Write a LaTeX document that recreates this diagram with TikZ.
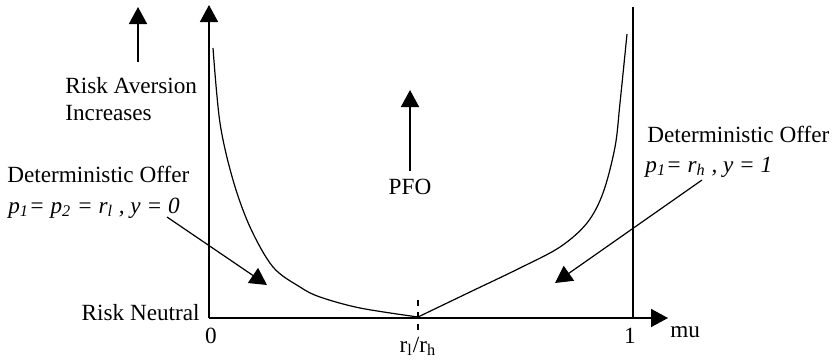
\documentclass[tikz,border=0pt]{standalone}
\usepackage{fontspec}
\setmainfont{Liberation Serif}
\usetikzlibrary{arrows.meta, positioning}

\begin{document}
\begin{tikzpicture}[x=0.5pt, y=-0.5pt, font=\fontsize{11.6pt}{13.5pt}\selectfont,
    every node/.style={inner sep=0pt},
    axisline/.style={line width=0.8pt},
    bigtip/.style={-{Triangle[length=8.5pt, width=9pt]}},
    curveline/.style={line width=0.6pt}]
    \useasboundingbox (0,0) rectangle (834,360);
    % Axes
    \coordinate (origin) at (209,318);
    \coordinate (ytop)   at (209,5);
    \coordinate (xend)   at (668,318);
    \coordinate (one)    at (633,318);
    \coordinate (onetop) at (633,7);
    \draw[axisline, bigtip] (origin) -- (ytop);
    \draw[axisline, bigtip] (origin) -- (xend);
    \draw[axisline] (one) -- (onetop);
    % r_l/r_h marker
    \coordinate (mtop) at (418,300);
    \coordinate (mbot) at (418,333);
    \draw[dashed, line width=0.6pt] (mtop) -- (mbot);
    % Curves
    \draw[curveline] plot[smooth, tension=0.55] coordinates {
      (213,48) (220,123) (233,180) (250,227) (273,267) (300,287)
      (320,297) (360,308) (418,317)};
    \draw[curveline] plot[smooth, tension=0.55] coordinates {
      (418,317) (470,292) (520,268) (560,247) (587,223) (603,193)
      (615,147) (620,103) (627,34)};
    % Axis labels
    \node[anchor=base east] (neutral) at (200,320) {Risk Neutral};
    \node[anchor=base] (zero) at (211,343) {0};
    \node[anchor=base] (unit) at (630,343) {1};
    \node[anchor=base] (ratio) at (418,352) {r\textsubscript{l}/r\textsubscript{h}};
    \node[anchor=base west] (mu) at (670,337) {mu};
    % Risk aversion
    \node[anchor=base west] (aversion) at (65,93) {Risk Aversion};
    \node[anchor=base west] (increases) at (65,120) {Increases};
    \coordinate (avbot) at (138,62);
    \coordinate (avtop) at (138,7);
    \draw[axisline, bigtip] (avbot) -- (avtop);
    % PFO
    \node[anchor=base] (pfo) at (410,194) {PFO};
    \coordinate (pfotop) at (410,90);
    \draw[axisline, bigtip] (pfo.north) ++(0,-7) -- (pfotop);
    % Deterministic offer, left
    \node[anchor=base west] (detleft) at (7,182) {Deterministic Offer};
    \node[anchor=base west] (ruleleft) at (8,213)
      {\itshape p\textsubscript{1}= p\textsubscript{2} = r\textsubscript{l} , y = 0};
    \coordinate (leftstart) at (167,217);
    \coordinate (lefttip) at (267,285);
    \draw[curveline, bigtip] (leftstart) -- (lefttip);
    % Deterministic offer, right
    \node[anchor=base west] (detright) at (647,142) {Deterministic Offer};
    \node[anchor=base west] (ruleright) at (645,172)
      {\itshape p\textsubscript{1}= r\textsubscript{h} , y = 1};
    \coordinate (rightstart) at (702,180);
    \coordinate (righttip) at (555,283);
    \draw[curveline, bigtip] (rightstart) -- (righttip);
\end{tikzpicture}
\end{document}
